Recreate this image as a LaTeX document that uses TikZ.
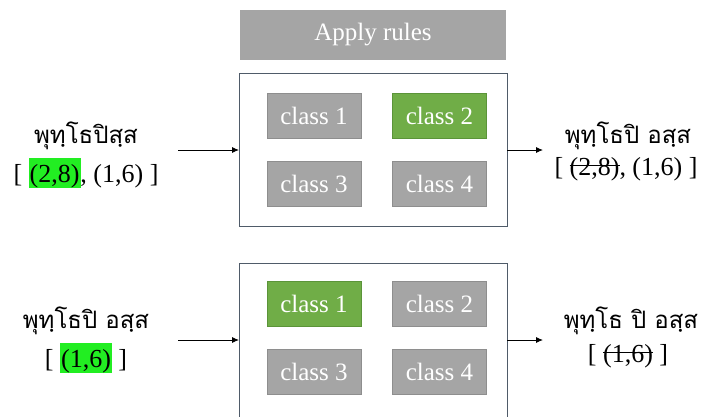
\documentclass[tikz,border=0pt]{standalone}
\usepackage{fontspec}
\setmainfont{Liberation Serif}
\newfontfamily\thaifont[Script=Thai]{Loma}
\usetikzlibrary{arrows.meta}

\definecolor{boxgray}{HTML}{A5A5A5}
\definecolor{boxgrayline}{HTML}{8E8E8E}
\definecolor{boxgreen}{HTML}{70AD47}
\definecolor{boxgreenline}{HTML}{5B9439}
\definecolor{framecol}{HTML}{4F5B69}
\definecolor{hlgreen}{HTML}{22EE22}

% highlighted and struck-out pairs
\newcommand\hlbox[1]{{\setlength\fboxsep{0pt}\colorbox{hlgreen}{\hspace{1pt}\rule[-5pt]{0pt}{29pt}#1\hspace{1pt}}}}
\newlength\strkwd
\newcommand\strk[1]{\settowidth\strkwd{#1}\rlap{\rule[0.36em]{\strkwd}{1.1pt}}#1}

\tikzset{
  classbox/.style={rectangle, fill=boxgray, draw=boxgrayline, line width=0.8pt,
    minimum width=94pt, minimum height=45pt, inner sep=0pt, outer sep=0pt,
    text=white, font=\fontsize{25}{30}\selectfont},
  activebox/.style={classbox, fill=boxgreen, draw=boxgreenline},
  rulebox/.style={rectangle, fill=boxgray, minimum width=266pt, minimum height=50pt,
    inner sep=0pt, text=white, font=\fontsize{25}{30}\selectfont},
  frame/.style={rectangle, draw=framecol, line width=0.9pt, fill=white,
    inner sep=0pt, outer sep=0pt},
  thaitext/.style={anchor=base, inner sep=0pt, font=\thaifont\fontsize{24}{29}\selectfont},
  pairtext/.style={anchor=base, inner sep=0pt, font=\fontsize{26}{31}\selectfont},
  flow/.style={-{Latex[length=7pt,width=6pt]}, line width=0.9pt}
}

\begin{document}
\begin{tikzpicture}[x=1pt,y=-1pt]
  \useasboundingbox (0,0) rectangle (701,416);

  % header
  \node[rulebox] (rules) at (373,35) {Apply rules};

  % first pass
  \node[frame, minimum width=268pt, minimum height=153pt] (f1) at (373,149.5) {};
  \node[classbox]  (a1) at (314,115.5) {class 1};
  \node[activebox] (a2) at (439.5,115.5) {class 2};
  \node[classbox]  (a3) at (314,184) {class 3};
  \node[classbox]  (a4) at (439.5,184) {class 4};

  \node[thaitext] (in1)  at (86,143) {พุทฺโธปิสฺส};
  \node[pairtext] (inp1) at (86,182) {[ \hlbox{(2,8)}, (1,6) ]};
  \node[thaitext] (out1)  at (628,143) {พุทฺโธปิ อสฺส};
  \node[pairtext] (outp1) at (626,175) {[ \strk{(2,8)}, (1,6) ]};

  \coordinate (s1) at (178,150);
  \coordinate (e1) at (543,150);
  \draw[flow] (s1) -- (s1 -| f1.west);
  \draw[flow] (f1.east |- e1) -- (e1);

  % second pass
  \node[frame, minimum width=268pt, minimum height=154pt] (f2) at (373,340) {};
  \node[activebox] (b1) at (314,304) {class 1};
  \node[classbox]  (b2) at (439.5,304) {class 2};
  \node[classbox]  (b3) at (314,371.5) {class 3};
  \node[classbox]  (b4) at (439.5,371.5) {class 4};

  \node[thaitext] (in2)  at (86,328) {พุทฺโธปิ อสฺส};
  \node[pairtext] (inp2) at (86,367) {[ \hlbox{(1,6)} ]};
  \node[thaitext] (out2)  at (631,328) {พุทฺโธ ปิ อสฺส};
  \node[pairtext] (outp2) at (628,362) {[ \strk{(1,6)} ]};

  \coordinate (s2) at (178,340);
  \coordinate (e2) at (543,340);
  \draw[flow] (s2) -- (s2 -| f2.west);
  \draw[flow] (f2.east |- e2) -- (e2);
\end{tikzpicture}
\end{document}
